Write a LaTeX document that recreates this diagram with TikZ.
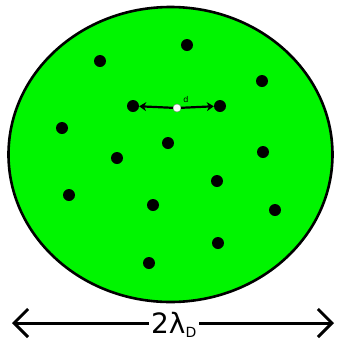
\documentclass[tikz,border=0pt]{standalone}
\usepackage{fontspec}
\newfontfamily\lblfont{DejaVu Sans}
\usetikzlibrary{arrows.meta}
\definecolor{blobgreen}{RGB}{0,245,0}
\begin{document}
\begin{tikzpicture}[x=1pt,y=-1pt,
  particle/.style={circle,fill=black,inner sep=0pt,minimum size=12pt},
  barb/.style={-{Straight Barb[length=14pt,width=28pt,line width=3pt]},line width=3pt}]
\useasboundingbox (0,0) rectangle (338,349);
\filldraw[fill=blobgreen,draw=black,line width=2.6pt] (170.5,154.5) ellipse [x radius=162, y radius=147.5];
\foreach \n/\x/\y in {p1/187/45,p2/100/61,p3/262/81,p4/133/106,p5/220/106,p6/62/128,p7/168/143,p8/117/158,p9/263/152,p10/217/181,p11/69/195,p12/153/205,p13/275/210,p14/218/243,p15/149/263}
  \node[particle] (\n) at (\x,\y) {};
\node[circle,fill=white,draw=black!50,inner sep=0pt,minimum size=8pt] (c) at (177,108) {};
\node[font=\lblfont\fontsize{8}{8}\selectfont,inner sep=0pt] (dl) at (186,100) {d};
\draw[-{Stealth[length=7pt,width=9pt]},line width=2.2pt] (c) -- (p4);
\draw[-{Stealth[length=7pt,width=9pt]},line width=2.2pt] (c) -- (p5);
\node[font=\lblfont\fontsize{28}{28}\selectfont,inner sep=2pt] (lbl) at (174,325) {2λ\textsubscript{\fontsize{14}{14}\selectfont D}};
\coordinate (lt) at (12,323);
\coordinate (rt) at (334,323);
\draw[barb] (lbl.west |- lt) -- (lt);
\draw[barb] (lbl.east |- rt) -- (rt);
\end{tikzpicture}
\end{document}
